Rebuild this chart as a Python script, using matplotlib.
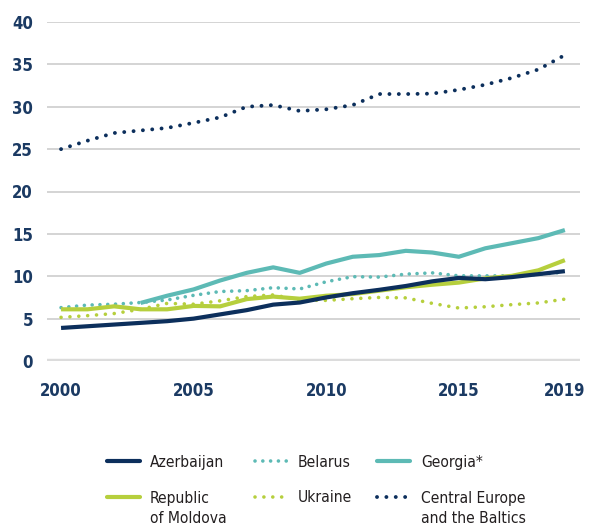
import matplotlib
matplotlib.use("Agg")
import matplotlib.pyplot as plt
from matplotlib.lines import Line2D

years = list(range(2000, 2020))
azerbaijan = [3.9, 4.1, 4.3, 4.5, 4.7, 5.0, 5.5, 6.0, 6.65, 6.9, 7.5, 8.0, 8.4, 8.85, 9.4, 9.8, 9.65, 9.9, 10.25, 10.6]
belarus = [6.3, 6.6, 6.7, 6.9, 7.2, 7.75, 8.2, 8.3, 8.65, 8.5, 9.35, 9.95, 9.9, 10.25, 10.4, 10.05, 10.05, 10.05, 10.2, 10.5]
georgia_years = list(range(2003, 2020))
georgia = [6.85, 7.7, 8.45, 9.5, 10.4, 11.05, 10.4, 11.5, 12.3, 12.5, 13.0, 12.8, 12.3, 13.3, 13.9, 14.5, 15.45]
moldova = [6.1, 6.1, 6.45, 6.1, 6.1, 6.5, 6.45, 7.3, 7.6, 7.35, 7.7, 7.9, 8.3, 8.7, 9.0, 9.25, 9.75, 10.05, 10.7, 11.9]
ukraine = [5.15, 5.35, 5.6, 6.1, 6.8, 6.7, 7.1, 7.6, 7.8, 7.2, 7.15, 7.35, 7.5, 7.45, 6.8, 6.25, 6.4, 6.65, 6.85, 7.3]
central_europe = [25.0, 26.0, 26.9, 27.2, 27.5, 28.1, 28.75, 30.0, 30.2, 29.5, 29.7, 30.2, 31.5, 31.5, 31.55, 32.0, 32.6, 33.4, 34.4, 36.1]

labels = ["Azerbaijan", "Belarus", "Georgia*", "Republic\nof Moldova", "Ukraine", "Central Europe\nand the Baltics"]
yticks = [0, 5, 10, 15, 20, 25, 30, 35, 40]
xticks = [2000, 2005, 2010, 2015, 2019]

NAVY = "#0c2f5c"
TEAL = "#5dbab5"
LIME = "#b6cf3d"
TICK = "#1b3a63"

fig = plt.figure(figsize=(5.92, 5.27), dpi=100)
ax = fig.add_axes([47/592, 1-361/527, (580-47)/592, (361-22)/527])
ax.set_xlim(1999.47, 2019.57)
ax.set_ylim(0, 40)

for y in yticks[1:]:
    ax.axhline(y, color="#c9c9c9", lw=1.1, zorder=0)
ax.axhline(0, color="#dcdcdc", lw=3.2, zorder=0, solid_capstyle="round")

styles = [
    dict(color=NAVY, lw=3.0, ls="-"),
    dict(color=TEAL, lw=2.6, ls=(0, (0.01, 2.15)), dash_capstyle="round"),
    dict(color=TEAL, lw=3.0, ls="-"),
    dict(color=LIME, lw=3.0, ls="-"),
    dict(color=LIME, lw=2.6, ls=(0, (0.01, 2.45)), dash_capstyle="round"),
    dict(color=NAVY, lw=2.8, ls=(0, (0.01, 2.4)), dash_capstyle="round"),
]

ax.plot(years, central_europe, clip_on=False, zorder=2, **styles[5])
ax.plot(years, ukraine, clip_on=False, zorder=3, **styles[4])
ax.plot(years, belarus, clip_on=False, zorder=3, **styles[1])
ax.plot(years, moldova, clip_on=False, zorder=4, solid_capstyle="butt", **styles[3])
ax.plot(georgia_years, georgia, clip_on=False, zorder=5, solid_capstyle="butt", **styles[2])
ax.plot(years, azerbaijan, clip_on=False, zorder=6, solid_capstyle="butt", **styles[0])

for s in ax.spines.values():
    s.set_visible(False)
ax.set_yticks(yticks)
ax.set_xticks(xticks)
ax.tick_params(axis="both", length=0, labelsize=12, labelcolor=TICK)
ax.tick_params(axis="y", pad=10)
ax.tick_params(axis="x", pad=15)
for t in ax.get_xticklabels() + ax.get_yticklabels():
    t.set_fontweight("bold")
    t.set_fontfamily(["DejaVu Sans"])
    t.set_fontstretch("condensed")

# legend (manual layout)
cols_h = [(107, 140), (255, 287), (377, 410)]
cols_t = [150, 298, 421]
rows_y = [461, 497]
rows_base = [467, 502]
line_gap = 21
W, H = 592, 527
for i, lab in enumerate(labels):
    r, c = divmod(i, 3)
    x0, x1 = cols_h[c]
    yy = rows_y[r]
    st = dict(styles[i])
    ln = Line2D([x0/W, x1/W], [1-yy/H, 1-yy/H], transform=fig.transFigure, **st)
    if st["ls"] == "-":
        ln.set_solid_capstyle("round")
    fig.add_artist(ln)
    nl = lab.count("\n")
    fig.text(cols_t[c]/W, 1-(rows_base[r] + nl*line_gap)/H, lab, ha="left", va="baseline",
             fontsize=11.2, family=["DejaVu Sans"], fontstretch="condensed",
             color="#231f20", linespacing=1.45)

fig.savefig("out.png", dpi=100)
